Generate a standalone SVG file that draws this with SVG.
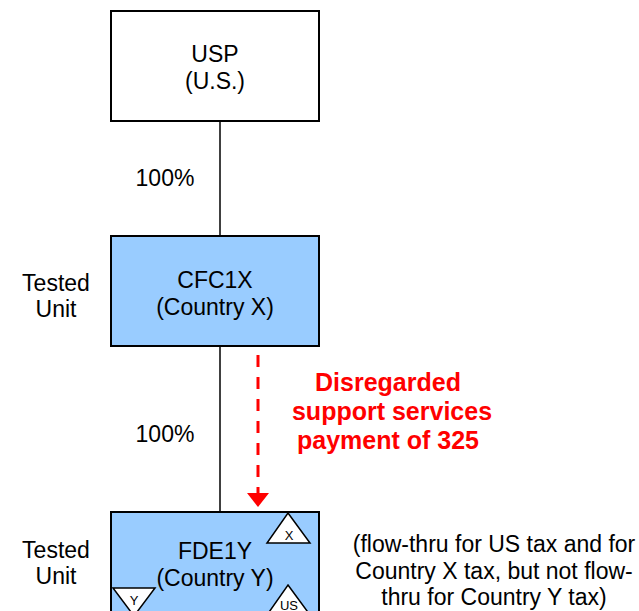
<svg xmlns="http://www.w3.org/2000/svg" width="639" height="611" viewBox="0 0 639 611">
<defs>
<style>
.box{stroke:#000;stroke-width:2}
.t{font-family:"Liberation Sans",Arial,sans-serif;font-size:23px;fill:#000;text-anchor:middle}
.s{font-family:"Liberation Sans",Arial,sans-serif;font-size:13px;fill:#000;text-anchor:middle}
.r{font-family:"Liberation Sans",Arial,sans-serif;font-size:25px;font-weight:bold;fill:#FF0000;text-anchor:middle}
.tri{fill:#fff;stroke:#000;stroke-width:1.5}
</style>
<marker id="ah" markerWidth="14" markerHeight="22" refX="13" refY="11" orient="auto" markerUnits="userSpaceOnUse" viewBox="0 0 14 22">
<path d="M0,0 L14,11 L0,22 Z" fill="#FF0000"/>
</marker>
</defs>
<rect width="639" height="611" fill="#fff"/>
<g id="connectors">
<line x1="220" y1="121" x2="220" y2="236" stroke="#000" stroke-width="1.5"/>
<line x1="220" y1="346" x2="220" y2="511" stroke="#000" stroke-width="1.5"/>
<line x1="258" y1="355" x2="258" y2="506" stroke="#FF0000" stroke-width="3" stroke-dasharray="12,10" marker-end="url(#ah)"/>
</g>
<g id="usp">
<rect class="box" x="111" y="11" width="208" height="110" fill="#fff"/>
<text class="t" x="215" y="62">USP</text>
<text class="t" x="215" y="89">(U.S.)</text>
</g>
<g id="cfc1x">
<rect class="box" x="111" y="236" width="208" height="110" fill="#99CCFF"/>
<text class="t" x="215" y="288">CFC1X</text>
<text class="t" x="215" y="315">(Country X)</text>
</g>
<g id="fde1y">
<rect class="box" x="111" y="512" width="208" height="110" fill="#99CCFF"/>
<text class="t" x="215" y="559">FDE1Y</text>
<text class="t" x="215" y="586">(Country Y)</text>
<polygon class="tri" points="288,513 310,543 267,543"/>
<text class="s" x="289" y="540">X</text>
<polygon class="tri" points="113,588 155,588 134,616"/>
<text class="s" x="134" y="605">Y</text>
<polygon class="tri" points="288,585 310,615 267,615"/>
<text class="s" x="289" y="610">US</text>
</g>
<g id="labels">
<text class="t" x="165" y="186">100%</text>
<text class="t" x="56" y="291">Tested</text>
<text class="t" x="56" y="317">Unit</text>
<text class="t" x="165" y="442">100%</text>
<text class="t" x="56" y="558">Tested</text>
<text class="t" x="56" y="584">Unit</text>
<text class="r" x="388" y="391">Disregarded</text>
<text class="r" x="392" y="420">support services</text>
<text class="r" x="388" y="449">payment of 325</text>
<text class="t" x="494" y="552">(flow-thru for US tax and for</text>
<text class="t" x="494" y="579">Country X tax, but not flow-</text>
<text class="t" x="494" y="605">thru for Country Y tax)</text>
</g>
</svg>
